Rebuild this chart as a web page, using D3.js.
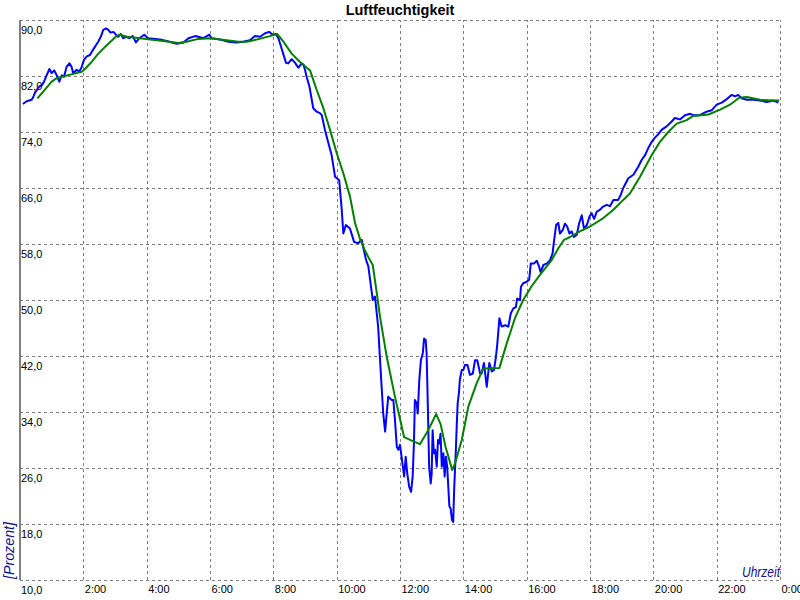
<!DOCTYPE html>
<html><head><meta charset="utf-8">
<script src="https://cdn.jsdelivr.net/npm/d3@7"></script>
<style>body{margin:0;background:#fff}svg{display:block}</style>
</head><body><svg id="c" width="800" height="600"></svg>
<script>
const chartTitle = "Luftfeuchtigkeit";
const yAxisTitle = "[Prozent]";
const xAxisTitle = "Uhrzeit";
const xTicks = [2, 4, 6, 8, 10, 12, 14, 16, 18, 20, 22, 24];
const xTickLabels = ["2:00", "4:00", "6:00", "8:00", "10:00", "12:00", "14:00", "16:00", "18:00", "20:00", "22:00", "0:00"];
const yTicks = [10, 18, 26, 34, 42, 50, 58, 66, 74, 82, 90];
const yTickLabels = ["10,0", "18,0", "26,0", "34,0", "42,0", "50,0", "58,0", "66,0", "74,0", "82,0", "90,0"];

// measured humidity (hours, percent)
const measTime = [
0.09,0.21,0.37,0.42,0.47,0.61,0.69,0.76,0.84,0.93,
1.00,1.08,1.16,1.24,1.32,1.39,1.47,1.56,1.63,1.68,
1.79,1.87,1.95,2.02,2.11,2.21,2.30,2.37,2.47,2.55,
2.63,2.72,2.79,2.86,2.95,3.03,3.10,3.18,3.26,3.35,
3.45,3.56,3.66,3.77,3.92,4.05,4.42,4.63,4.95,5.16,
5.32,5.53,5.63,5.79,5.98,6.05,6.32,6.58,6.84,7.05,
7.26,7.42,7.58,7.74,7.87,7.98,8.08,8.16,8.23,8.31,
8.40,8.47,8.58,8.68,8.79,8.90,8.95,9.00,9.05,9.14,
9.26,9.37,9.47,9.53,9.63,9.74,9.84,9.95,10.08,10.16,
10.21,10.29,10.42,10.55,10.68,10.79,10.86,10.93,11.00,11.07,
11.14,11.21,11.31,11.37,11.42,11.47,11.53,11.58,11.63,11.74,
11.79,11.84,11.90,11.95,12.00,12.05,12.13,12.18,12.23,12.29,
12.35,12.40,12.44,12.47,12.53,12.56,12.61,12.66,12.72,12.76,
12.81,12.84,12.87,12.92,12.97,13.00,13.03,13.07,13.11,13.16,
13.20,13.24,13.28,13.32,13.37,13.41,13.45,13.49,13.53,13.56,
13.60,13.64,13.68,13.71,13.76,13.79,13.82,13.86,13.89,13.95,
14.00,14.05,14.13,14.21,14.30,14.37,14.44,14.53,14.58,14.65,
14.74,14.82,14.90,14.97,15.03,15.07,15.14,15.21,15.32,15.42,
15.50,15.58,15.66,15.70,15.79,15.82,15.89,16.00,16.08,16.13,
16.23,16.32,16.39,16.44,16.53,16.63,16.74,16.82,16.86,16.93,
17.00,17.05,17.14,17.21,17.28,17.35,17.42,17.49,17.58,17.66,
17.74,17.81,17.90,17.98,18.05,18.13,18.21,18.32,18.40,18.53,
18.63,18.74,18.89,18.97,19.05,19.21,19.37,19.52,19.63,19.74,
19.84,19.95,20.05,20.16,20.26,20.42,20.58,20.68,20.84,21.00,
21.16,21.26,21.47,21.68,21.84,22.00,22.16,22.32,22.47,22.58,
22.68,22.79,22.95,23.16,23.37,23.58,23.79,23.95];
const measValue = [
78.0,78.4,78.6,79.0,79.6,80.5,80.7,81.2,82.1,83.0,
82.4,82.8,82.1,81.2,82.1,81.9,83.3,83.8,83.3,82.4,
82.9,82.6,83.3,84.3,84.8,85.0,85.7,86.2,86.9,87.6,
88.6,88.8,88.6,88.2,88.3,87.9,87.6,88.0,87.4,87.6,
87.4,87.7,86.8,87.4,87.9,87.4,87.2,87.0,86.6,86.8,
87.4,87.7,87.6,87.4,87.9,87.4,87.2,86.9,86.8,86.9,
87.1,87.7,87.6,88.1,88.3,87.9,88.0,87.4,86.4,85.2,
83.9,83.8,84.4,83.9,83.2,83.8,83.6,82.9,81.9,80.5,
77.4,76.9,76.7,76.4,74.3,72.4,70.7,67.6,67.1,62.9,
59.5,60.7,60.2,58.3,58.1,58.6,57.1,55.7,54.8,52.4,
50.0,50.5,46.2,41.4,37.6,33.8,31.2,33.8,36.2,35.7,
35.7,32.9,29.0,28.6,29.3,27.6,24.8,27.6,25.2,23.3,
22.6,24.8,29.5,35.7,35.2,33.8,38.6,41.4,42.4,44.5,
44.3,42.4,36.7,26.2,23.8,25.2,31.4,28.1,28.6,26.2,
30.0,29.5,30.9,26.2,28.1,24.8,27.6,26.2,22.9,20.5,
20.2,18.6,18.3,22.9,28.1,31.9,35.2,36.7,38.6,40.0,
40.0,40.7,40.7,39.3,39.5,41.4,41.4,39.5,39.5,41.0,
37.6,41.0,39.8,40.0,41.9,43.6,47.4,46.2,46.4,46.2,
48.1,48.8,49.0,50.2,50.0,51.9,52.4,52.6,52.9,55.2,
55.2,55.6,54.8,54.0,55.0,55.2,55.7,56.7,58.3,60.7,
61.0,59.5,60.0,60.9,60.5,59.5,59.8,59.0,59.3,61.0,
62.1,60.2,60.7,61.9,62.4,61.6,62.6,62.9,63.3,63.6,
63.4,64.3,64.3,65.0,66.0,67.4,67.9,69.0,70.0,70.7,
71.7,72.6,73.2,73.7,74.3,74.8,75.5,76.0,75.8,76.4,
76.6,76.4,76.4,76.9,77.1,77.9,78.2,78.7,79.3,79.1,
79.3,78.8,78.6,78.6,78.5,78.3,78.5,78.2];

// smoothed humidity (hours, percent)
const avgTime = [
0.55,0.74,1.00,1.16,1.42,1.68,1.95,2.05,2.26,2.47,
2.74,3.05,3.16,3.37,3.79,4.11,4.53,5.00,5.26,5.63,
6.00,6.53,6.89,7.16,7.47,7.89,8.12,8.32,8.58,8.84,
9.16,9.37,9.58,9.79,10.00,10.21,10.42,10.58,10.74,10.89,
11.05,11.14,11.26,11.37,11.58,11.84,12.13,12.37,12.63,12.89,
13.14,13.28,13.44,13.65,13.74,13.95,14.16,14.42,14.63,15.14,
15.37,15.63,15.89,16.16,16.42,16.79,17.00,17.18,17.37,17.68,
18.00,18.42,18.74,19.05,19.26,19.58,19.95,20.21,20.47,20.74,
21.05,21.26,21.74,22.11,22.42,22.71,22.95,23.37,23.79,23.98];
const avgValue = [
78.8,79.8,81.2,81.7,82.0,82.3,82.6,83.0,84.0,85.2,
86.4,87.7,87.9,87.6,87.4,87.2,87.0,86.7,86.9,87.3,
87.4,87.1,86.9,86.9,87.2,87.7,88.0,86.9,85.2,84.0,
82.8,80.0,77.4,74.3,71.0,68.1,64.8,61.0,58.7,57.1,
55.7,55.0,51.2,47.6,41.9,36.2,30.4,29.9,29.4,31.4,
33.7,32.3,29.0,25.7,26.7,30.0,34.8,38.1,40.2,40.3,
43.8,47.4,50.0,52.0,53.6,55.7,57.4,58.6,59.0,59.8,
60.5,61.7,62.9,64.3,65.2,67.6,70.7,72.6,74.0,75.2,
75.7,76.3,76.5,77.2,77.9,78.9,79.0,78.6,78.5,78.5];

if (measTime.length !== measValue.length) throw new Error("meas mismatch " + measTime.length + " " + measValue.length);
if (avgTime.length !== avgValue.length) throw new Error("avg mismatch " + avgTime.length + " " + avgValue.length);

const svg = d3.select("#c");
const L = 20, R = 780, T = 20, B = 580;
const x = d3.scaleLinear().domain([0, 24]).range([L, R]);
const y = d3.scaleLinear().domain([10, 90]).range([B, T]);
const font = "'Liberation Sans', Arial, sans-serif";

// y grid + labels
const ya = svg.append("g").attr("transform", `translate(${L},0)`)
  .call(d3.axisLeft(y).tickValues(yTicks).tickSize(-(R - L)).tickFormat((d, i) => yTickLabels[i]));
ya.select(".domain").remove();
ya.selectAll(".tick line").attr("stroke", "#808080").attr("stroke-dasharray", "3,3").attr("shape-rendering", "crispEdges");
ya.selectAll(".tick text").attr("x", 1).attr("y", 13).attr("dy", null)
  .attr("text-anchor", "start").attr("fill", "#000").style("font", `11px ${font}`);

// x grid + labels
const xa = svg.append("g").attr("transform", `translate(0,${B})`)
  .call(d3.axisBottom(x).tickValues(xTicks).tickSize(-(B - T)).tickFormat((d, i) => xTickLabels[i]));
xa.select(".domain").remove();
xa.selectAll(".tick line").attr("stroke", "#808080").attr("stroke-dasharray", "3,3").attr("shape-rendering", "crispEdges");
xa.selectAll(".tick text").attr("x", 1).attr("y", 5)
  .attr("text-anchor", "start").attr("fill", "#000").style("font", `11px ${font}`);

// left axis line
svg.append("line").attr("x1", L).attr("x2", L).attr("y1", T).attr("y2", B)
  .attr("stroke", "#808080").attr("stroke-width", 2);

const line = d3.line().x(d => x(d[0])).y(d => y(d[1]));
const meas = measTime.map((t, i) => [t, measValue[i]]);
const avg = avgTime.map((t, i) => [t, avgValue[i]]);

svg.append("path").datum(meas).attr("d", line).attr("fill", "none")
  .attr("stroke", "#0000ff").attr("stroke-width", 2).attr("stroke-linejoin", "round");
svg.append("path").datum(avg).attr("d", line).attr("fill", "none")
  .attr("stroke", "#008000").attr("stroke-width", 2).attr("stroke-linejoin", "round");

// title
svg.append("text").attr("x", 400).attr("y", 15).attr("text-anchor", "middle")
  .style("font", `bold 14.5px ${font}`).attr("fill", "#000").text(chartTitle);

// axis titles
svg.append("text").attr("transform", "translate(14,579) rotate(-90)")
  .attr("textLength", 57).attr("lengthAdjust", "spacingAndGlyphs")
  .style("font", `italic 15px ${font}`).attr("fill", "#10108c").text(yAxisTitle);
svg.append("text").attr("x", 780).attr("y", 577).attr("text-anchor", "end")
  .attr("textLength", 38).attr("lengthAdjust", "spacingAndGlyphs")
  .style("font", `italic 14px ${font}`).attr("fill", "#10108c").text(xAxisTitle);
</script>
</body></html>
